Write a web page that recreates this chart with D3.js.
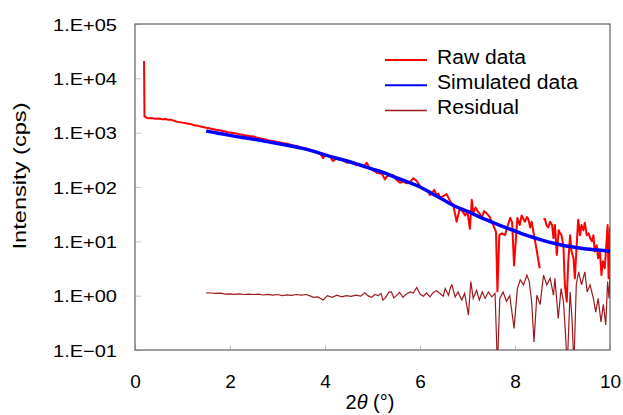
<!DOCTYPE html>
<html>
<head>
<meta charset="utf-8">
<script src="https://cdn.jsdelivr.net/npm/d3@7"></script>
<style>
  body { margin: 0; background: white; }
  text { font-family: Arial, "Liberation Sans", sans-serif; fill: #000; }
</style>
</head>
<body>
<div id="vis"></div>
<script>
// data (2theta in degrees, intensity in cps)
let rawX = [0.19, 0.20, 0.25, 0.3, 0.35, 0.4, 0.45, 0.5, 0.55, 0.6, 0.65, 0.7, 0.75, 0.8, 0.85, 0.9, 0.95, 1.0,
  1.05, 1.1, 1.15, 1.2, 1.25, 1.3, 1.35, 1.4, 1.45, 1.5, 1.55, 1.6, 1.65, 1.7, 1.75, 1.8, 1.85, 1.9, 1.95, 2.0,
  2.1, 2.2, 2.3, 2.4, 2.5, 2.6, 2.7, 2.75, 2.8, 2.9, 3.0, 3.1, 3.2, 3.3, 3.4, 3.5, 3.6, 3.7, 3.8, 3.9, 3.96,
  4.0, 4.1, 4.17, 4.25, 4.35, 4.46, 4.55, 4.67, 4.75, 4.82, 4.88, 4.95, 5.05, 5.1, 5.2, 5.26, 5.3, 5.37, 5.44,
  5.51, 5.58, 5.65, 5.72, 5.8, 5.86, 5.93, 6.0, 6.04, 6.1, 6.16, 6.21, 6.26, 6.3, 6.35, 6.39, 6.42, 6.46, 6.5,
  6.56, 6.6, 6.65, 6.7, 6.77, 6.84, 6.9, 6.95, 7.0, 7.05, 7.09, 7.12, 7.17, 7.22, 7.26, 7.3, 7.35, 7.4, 7.47,
  7.54, 7.6, 7.63, 7.67, 7.72, 7.79, 7.85, 7.9, 7.94, 7.98, 8.05, 8.1, 8.14, 8.21, 8.25, 8.28, 8.32, 8.35,
  8.45, 8.52, 8.56, 8.6, 8.63, 8.66, 8.7, 8.74, 8.78, 8.81, 8.84, 8.88, 8.92, 8.95, 8.98, 9.02, 9.05, 9.09,
  9.12, 9.16, 9.19, 9.23, 9.26, 9.3, 9.33, 9.37, 9.4, 9.44, 9.47, 9.51, 9.55, 9.58, 9.62, 9.65, 9.68, 9.72,
  9.75, 9.79, 9.82, 9.85, 9.89, 9.92, 9.95, 9.97, 10.0];
let rawY = [20900, 1995, 1860, 1840, 1860, 1820, 1800, 1820, 1780, 1760, 1780, 1720, 1740, 1680, 1620, 1580, 1550, 1530,
  1500, 1480, 1450, 1410, 1360, 1350, 1320, 1290, 1260, 1230, 1220, 1175, 1160, 1135, 1120, 1100, 1070, 1050, 1020, 1010,
  980, 935, 900, 870, 850, 795, 765, 750, 725, 700, 675, 645, 625, 595, 570, 535, 515, 480, 445, 415, 340,
  390, 365, 300, 340, 315, 280, 290, 250, 255, 240, 280, 215, 195, 180, 175, 138, 155, 170, 165,
  135, 120, 126, 117, 126, 145, 129, 105, 95, 91, 85, 71, 79, 89, 71, 76, 62, 66, 69,
  74, 63, 52, 47, 23, 41, 35, 30, 35, 17, 58, 33, 42, 35, 32, 27, 36, 33, 28,
  20, 15, 1.2, 13, 14, 13, 20, 27, 22, 3.6, 27, 20, 30, 23, 28, 26, 18, 23,
  7.4, 3.2, null, 25, 26, 20, 18, 23, 20, 11.5, 20, 5.6, 16, 14, 13, 7.9, 1.6, 0.78,
  4.0, 13, 6.5, 5.0, 2.1, 8.9, 25, 13, 20, 16, 22, 13, 14, 11.5, 10, 13, 6.5, 8.5,
  4.9, 6.3, 2.4, 4.3, 3.2, 7.9, 20, 2.1, 18];

let simX = [1.5, 1.75, 2.0, 2.25, 2.5, 2.75, 3.0, 3.25, 3.5, 3.75, 4.0, 4.25, 4.5, 4.75, 5.0, 5.25, 5.5, 5.75,
  6.0, 6.25, 6.5, 6.75, 7.0, 7.25, 7.5, 7.75, 8.0, 8.25, 8.5, 8.75, 9.0, 9.25, 9.5, 9.75, 10.0];
let simY = [1072, 977, 891, 813, 759, 692, 631, 575, 519, 457, 389, 339, 295, 251, 214, 182, 148, 123,
  100, 75.9, 57.5, 43.7, 35.5, 28.2, 22.9, 18.6, 15.5, 12.9, 11.0, 9.5, 8.5, 7.8, 7.2, 6.9, 6.6];

let resX = [1.5, 1.6, 1.7, 1.8, 1.9, 2.0, 2.1, 2.2, 2.3, 2.4, 2.5, 2.6, 2.7, 2.8, 2.9, 3.0, 3.1, 3.2, 3.3, 3.4,
  3.5, 3.6, 3.7, 3.75, 3.85, 3.96, 4.05, 4.15, 4.25, 4.35, 4.45, 4.55, 4.65, 4.75, 4.84, 4.9, 4.98, 5.05,
  5.12, 5.18, 5.22, 5.28, 5.34, 5.4, 5.45, 5.5, 5.57, 5.64, 5.7, 5.79, 5.86, 5.93, 6.0, 6.07, 6.14, 6.21,
  6.28, 6.35, 6.42, 6.49, 6.53, 6.6, 6.64, 6.67, 6.74, 6.8, 6.88, 6.94, 7.02, 7.07, 7.12, 7.19, 7.25, 7.31,
  7.37, 7.44, 7.51, 7.58, 7.63, 7.68, 7.75, 7.82, 7.89, 7.98, 8.05, 8.11, 8.18, 8.25, 8.3, 8.35, 8.4, 8.46,
  8.53, 8.6, 8.67, 8.74, 8.81, 8.84, 8.91, 8.97, 9.02, 9.06, 9.1, 9.16, 9.2, 9.24, 9.29, 9.34, 9.4, 9.47,
  9.52, 9.58, 9.65, 9.7, 9.75, 9.81, 9.86, 9.91, 9.95, 9.98, 10.0];
let resY = [1.13, 1.12, 1.10, 1.11, 1.07, 1.08, 1.06, 1.08, 1.05, 1.07, 1.05, 1.07, 1.03, 1.06, 1.02, 1.05, 1.0, 1.03, 1.01, 1.05,
  1.02, 1.05, 0.98, 0.93, 0.95, 0.83, 1.0, 0.93, 1.02, 0.95, 1.0, 0.97, 1.02, 0.98, 1.13, 1.0, 0.93, 1.05,
  1.0, 1.10, 0.83, 0.93, 1.15, 1.17, 0.91, 1.0, 1.15, 0.93, 1.05, 1.17, 1.12, 1.41, 1.07, 0.98, 1.12, 0.95,
  1.15, 1.23, 1.10, 0.98, 1.35, 1.02, 1.41, 1.58, 0.95, 1.17, 0.83, 1.10, 0.44, 1.82, 0.89, 1.26, 0.83, 1.17,
  0.89, 1.17, 0.95, 1.10, 0.05, 0.89, 1.17, 0.79, 1.0, 0.25, 1.35, 1.95, 1.58, 2.4, 1.82, 0.78, 0.14, 1.02,
  0.69, 2.4, 1.58, 2.09, 1.02, 2.09, 0.38, 1.35, 0.78, 0.22, 0.05, 1.17, 0.38, 0.05, 1.58, 2.75, 1.58, 2.75,
  1.17, 1.58, 0.89, 0.5, 0.89, 0.33, 0.69, 0.29, 1.82, 0.89, 2.4];

let xTicks = [0, 2, 4, 6, 8, 10];
let yTicks = [1e-1, 1e0, 1e1, 1e2, 1e3, 1e4, 1e5];
let yTickLabels = ["1.E\u221201", "1.E+00", "1.E+01", "1.E+02", "1.E+03", "1.E+04", "1.E+05"];
let seriesNames = ["Raw data", "Simulated data", "Residual"];
let seriesColors = ["#ff0000", "#0000ff", "#9c1b1f"];

let margin = { top: 24, left: 135, right: 13, bottom: 65 },
  width = 623 - margin.left - margin.right,
  height = 415 - margin.top - margin.bottom;

let svg = d3.select('#vis')
  .append('svg')
  .attr('width', 623)
  .attr('height', 415)
  .style('background-color', 'white');

let g = svg.append('g')
  .attr('transform', `translate(${margin.left},${margin.top})`);

let x = d3.scaleLinear().domain([0, 10]).range([0, width]);
let y = d3.scaleLog().domain([1e-1, 1e5]).range([height, 0]);

// clip so the residual spikes stop at the frame
g.append('clipPath').attr('id', 'plotclip')
  .append('rect').attr('width', width).attr('height', height);

// y axis, ticks pointing inward
let yAxis = g.append('g')
  .call(d3.axisLeft(y).tickValues(yTicks).tickFormat((d, i) => yTickLabels[i]).tickSize(-6).tickPadding(18));
yAxis.select('.domain').remove();
yAxis.selectAll('line').attr('stroke', '#c4c4c4');
yAxis.selectAll('text')
  .attr('font-size', 17)
  .attr('dy', '0.36em')
  .attr('textLength', 64)
  .attr('lengthAdjust', 'spacingAndGlyphs')
  .style('font-family', 'Arial, "Liberation Sans", sans-serif');

// x axis
let xAxis = g.append('g')
  .attr('transform', `translate(0,${height})`)
  .call(d3.axisBottom(x).tickValues(xTicks).tickSize(-5).tickPadding(25));
xAxis.select('.domain').remove();
xAxis.selectAll('line').attr('stroke', '#c4c4c4');
xAxis.selectAll('text')
  .attr('font-size', 19)
  .style('font-family', 'Arial, "Liberation Sans", sans-serif');

// frame
g.append('rect')
  .attr('width', width)
  .attr('height', height)
  .attr('fill', 'none')
  .attr('stroke', '#6e6e6e')
  .attr('stroke-width', 1.3);

let line = d3.line()
  .defined(d => d[1] != null)
  .x(d => x(d[0]))
  .y(d => y(d[1]));

let plot = g.append('g').attr('clip-path', 'url(#plotclip)');

plot.append('path')
  .datum(rawX.map((v, i) => [v, rawY[i]]))
  .attr('d', line)
  .attr('fill', 'none')
  .attr('stroke', seriesColors[0])
  .attr('stroke-width', 2)
  .attr('stroke-linejoin', 'round');

plot.append('path')
  .datum(resX.map((v, i) => [v, resY[i]]))
  .attr('d', line)
  .attr('fill', 'none')
  .attr('stroke', seriesColors[2])
  .attr('stroke-width', 1.2);

plot.append('path')
  .datum(simX.map((v, i) => [v, simY[i]]))
  .attr('d', line.curve(d3.curveMonotoneX))
  .attr('fill', 'none')
  .attr('stroke', seriesColors[1])
  .attr('stroke-width', 3.5);

// legend
let legendW = [89, 141, 82];
let legend = svg.append('g').attr('transform', 'translate(385,60)');
seriesNames.forEach((name, i) => {
  legend.append('line')
    .attr('x1', 0).attr('x2', 42)
    .attr('y1', i * 25.2).attr('y2', i * 25.2)
    .attr('stroke', seriesColors[i])
    .attr('stroke-width', i == 2 ? 1.5 : 2);
  legend.append('text')
    .attr('x', 52)
    .attr('y', i * 25.2 + 4)
    .attr('font-size', 20)
    .attr('textLength', legendW[i])
    .attr('lengthAdjust', 'spacingAndGlyphs')
    .text(name);
});

// axis titles
let xt = svg.append('text')
  .attr('x', 370)
  .attr('y', 409)
  .attr('text-anchor', 'middle')
  .attr('font-size', 20);
xt.append('tspan').text('2');
xt.append('tspan').attr('font-style', 'italic').text('\u03b8');
xt.append('tspan').text(' (\u00b0)');

svg.append('text')
  .attr('transform', 'translate(26,176) rotate(-90)')
  .attr('text-anchor', 'middle')
  .attr('font-size', 19)
  .attr('textLength', 147)
  .attr('lengthAdjust', 'spacingAndGlyphs')
  .text('Intensity (cps)');
</script>
</body>
</html>
